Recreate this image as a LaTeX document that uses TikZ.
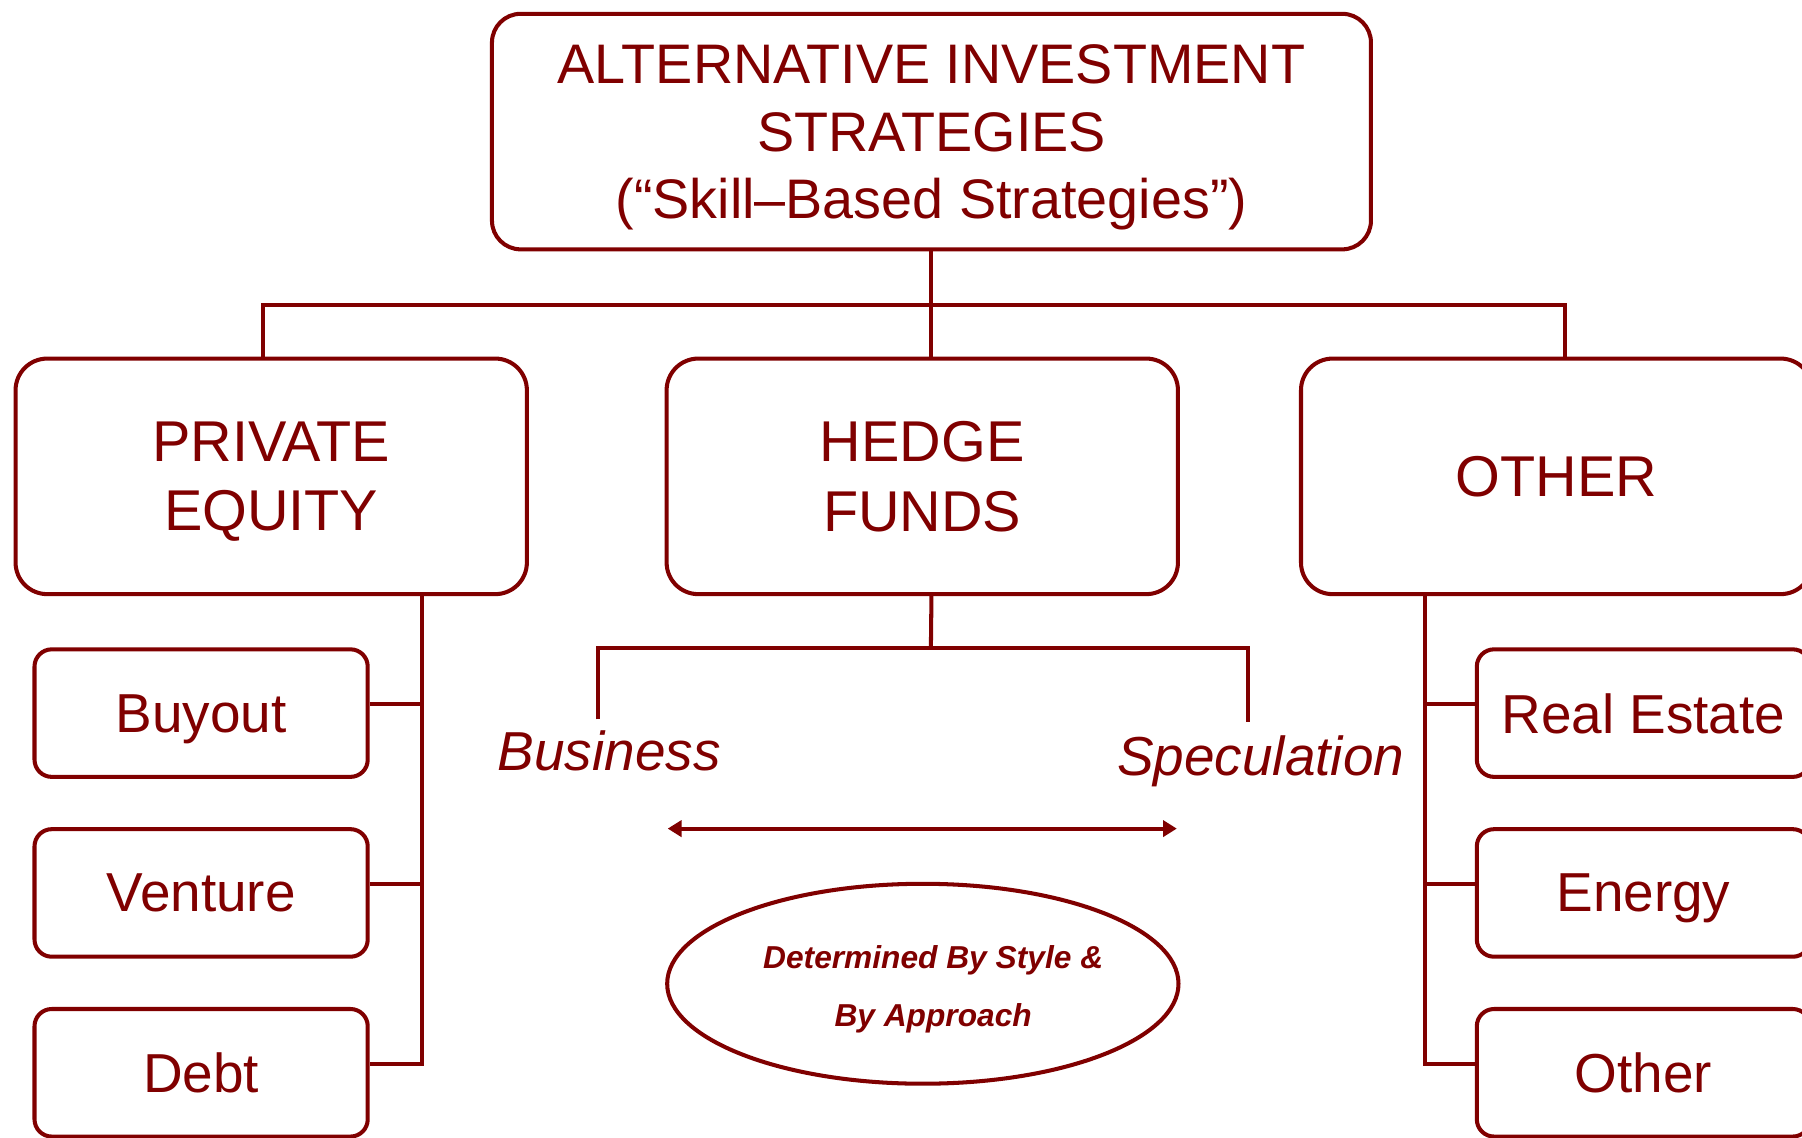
\documentclass[tikz,border=0pt]{standalone}
\usepackage{fontspec}
\setmainfont{Liberation Sans}
\usetikzlibrary{arrows.meta,positioning,shapes.geometric}
\definecolor{aisred}{RGB}{128,0,0}

\begin{document}
\begin{tikzpicture}[
  x=0.02cm, y=-0.02cm,
  node distance=8.4mm,
  every node/.style={text=aisred},
  wire/.style={draw=aisred,line width=2pt},
  topbox/.style={wire,rounded corners=5mm,align=center,text depth=0pt,minimum width=15.3cm,minimum height=4.1cm,font=\fontsize{27.6}{33.5}\selectfont},
  groupbox/.style={wire,rounded corners=5.5mm,align=center,text depth=0pt,minimum width=8.9cm,minimum height=4.1cm,font=\fontsize{28.5}{34.5}\selectfont},
  itembox/.style={wire,rounded corners=3mm,text depth=0pt,minimum width=5.8cm,minimum height=2.22cm,font=\fontsize{27.2}{32}\selectfont},
  tag/.style={font=\fontsize{27.2}{32}\selectfont\itshape},
  arr/.style={wire,{Triangle[length=2.4mm,width=2.8mm]}-{Triangle[length=2.4mm,width=2.8mm]}}
]
\useasboundingbox[fill=white] (0,0) rectangle (1568,990);

% top level and the three groups
\node[topbox] (title) at (810.5,114.5) {ALTERNATIVE INVESTMENT\\STRATEGIES\\(“Skill–Based Strategies”)};
\node[groupbox] (pe) at (236,414.5) {PRIVATE\\EQUITY};
\node[groupbox] (hedge) at (802.5,414.5) {HEDGE\\FUNDS};
\node[groupbox] (other) at (1354.5,414.5) {OTHER};

% private equity items
\node[itembox] (buyout) at (175,620.5) {Buyout};
\node[itembox,below=of buyout] (venture) {Venture};
\node[itembox,below=of venture] (debt) {Debt};

% other items
\node[itembox] (estate) at (1430,620.5) {Real Estate};
\node[itembox,below=of estate] (energy) {Energy};
\node[itembox,below=of energy] (misc) {Other};

% hedge fund spectrum
\node[tag] (business) at (530,653) {Business};
\node[tag] (speculation) at (1097,662) {Speculation};
\node[wire,ellipse,minimum width=8.9cm,minimum height=3.48cm] (approach) at (803,856) {};
\node[align=center,text depth=0pt,font=\fontsize{15.7}{28.9}\selectfont\bfseries\itshape]
  (approachtext) at ([xshift=1.8mm,yshift=-0.4mm]approach.center) {Determined By Style \&\\By Approach};

\coordinate (bus) at (810,265);
\coordinate (lspine) at (367,517);
\coordinate (rspine) at (1240,517);
\coordinate (hbus) at (810,564);
\coordinate (bizdrop) at (520,626);
\coordinate (specdrop) at (1086,628);
\coordinate (spanL) at (581,721);
\coordinate (spanR) at (1024,721);

\draw[wire] (title.south) -- (title.south |- hedge.north);
\draw[wire] ([xshift=-1.4mm]pe.north) |- (bus) -| ([xshift=1.5mm]other.north);

\draw[wire] (lspine) |- ([yshift=1.6mm]debt.east);
\foreach \b in {buyout,venture}
  \draw[wire] ([yshift=1.6mm]\b.east) -- ([yshift=1.6mm]\b.east -| lspine);

\draw[wire] (rspine) |- ([yshift=1.6mm]misc.west);
\foreach \b in {estate,energy}
  \draw[wire] ([yshift=1.6mm]\b.west) -- ([yshift=1.6mm]\b.west -| rspine);

\draw[wire] (title.south |- hedge.south) -- (hbus);
\draw[wire] (bizdrop) |- (hbus) -| (specdrop);
\draw[arr] (spanL) -- (spanR);
\end{tikzpicture}
\end{document}
